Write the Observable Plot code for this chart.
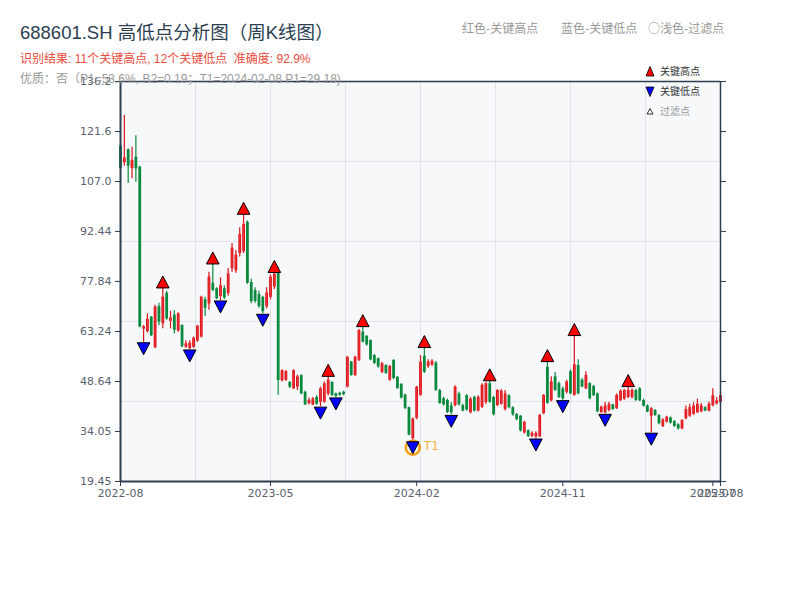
<!DOCTYPE html>
<html><head><meta charset="utf-8">
<script src="https://cdn.jsdelivr.net/npm/d3@7"></script>
<script src="https://cdn.jsdelivr.net/npm/@observablehq/plot@0.6"></script>
<style>
body{margin:0;background:#fff;font-family:"Liberation Sans","Noto Sans CJK SC",sans-serif;}
#wrap{position:relative;width:800px;height:600px;overflow:hidden;}
#chart{position:absolute;left:0;top:0;}
.t{position:absolute;white-space:nowrap;line-height:1;z-index:2;}
.cjk{font-family:"Noto Sans CJK SC",sans-serif;}
#leg{position:absolute;left:0;top:0;z-index:3;font-family:"Noto Sans CJK SC",sans-serif;}
</style></head><body><div id="wrap">
<div id="chart"></div>
<div class="t" style="left:20px;top:24px;font-size:18.5px;color:#2c3e50">688601.SH 高低点分析图（周K线图）</div>
<div class="t" style="left:20px;top:53px;font-size:12px;color:#e74c3c">识别结果: 11个关键高点, 12个关键低点&nbsp;&nbsp;准确度: 92.9%</div>
<div class="t" style="left:20px;top:73px;font-size:12px;color:#999">优质：否（P1=53.6%, B2=0.19；T1=2024-02-08 P1=29.18)</div>
<div class="t cjk" style="left:462px;top:22px;font-size:12px;color:#999">红色-关键高点</div>
<div class="t cjk" style="left:561px;top:22px;font-size:12px;color:#999">蓝色-关键低点</div>
<div class="t cjk" style="left:648px;top:22px;font-size:12px;color:#999">○浅色-过滤点</div>
<svg id="leg" width="800" height="140">
  <path d="M650,66.5 L654,76 L646,76 Z" fill="#ff0000" stroke="#000" stroke-width="0.8"/>
  <text x="660" y="72" font-size="10" fill="#333" dominant-baseline="middle">关键高点</text>
  <path d="M650,96.5 L654,87 L646,87 Z" fill="#0000ff" stroke="#000" stroke-width="0.8"/>
  <text x="660" y="92" font-size="10" fill="#333" dominant-baseline="middle">关键低点</text>
  <path d="M650,108.5 L653,114 L647,114 Z" fill="#fff" stroke="#000" stroke-width="0.8"/>
  <text x="660" y="112" font-size="10" fill="#999" dominant-baseline="middle">过滤点</text>
</svg>
</div>
<script>
// weekly candles (index 0 = first week of 2022-08)
const opens = [117.3,112.5,116.3,110.8,114.1,111.2,63.9,63.2,67.4,58.5,
70.5,65.5,74.4,66.2,68.0,63.4,65.0,58.6,58.3,58.6,
60.4,61.6,72.5,71.3,77.3,75.7,73.4,75.7,74.3,81.6,
81.0,86.0,86.5,95.1,77.5,75.2,74.0,73.2,70.5,73.2,
76.2,80.5,48.9,49.0,48.4,46.5,47.0,50.4,45.5,42.2,
41.8,44.0,42.5,42.6,45.0,48.4,45.0,45.2,45.5,47.0,
54.3,50.4,54.8,63.0,61.8,60.6,56.2,55.3,51.3,53.3,
49.0,54.8,49.9,47.8,44.7,41.0,32.0,37.9,44.6,56.0,
53.0,53.5,54.0,46.0,43.6,43.1,41.5,41.6,45.0,41.6,
44.5,39.5,44.0,40.0,41.1,42.5,48.0,44.0,41.6,42.0,
40.5,44.5,41.0,39.0,38.5,33.6,34.3,32.6,32.5,32.5,
39.2,52.8,43.0,50.0,48.0,46.5,45.5,51.5,44.6,53.3,
49.0,46.5,48.0,47.2,45.0,39.6,39.5,40.2,41.8,40.7,
43.0,43.5,44.0,44.0,46.0,46.5,43.1,41.5,38.5,40.2,
38.7,35.5,36.8,38.0,37.0,36.0,34.8,37.8,38.5,39.0,
39.5,39.8,41.0,40.0,41.6,42.1,42.5];
const closes = [110.9,113.9,111.5,113.1,110.7,64.5,64.6,66.8,62.0,70.3,
66.0,73.2,66.9,67.2,63.6,68.4,58.8,59.6,59.8,61.3,
64.8,73.2,70.0,79.1,75.2,72.8,76.6,73.0,80.0,87.5,
85.5,91.5,94.5,77.3,72.0,72.0,70.5,69.0,74.5,79.1,
80.0,48.9,51.8,51.5,47.0,51.8,50.0,45.0,41.8,43.1,
43.5,42.0,46.5,48.0,49.0,44.5,44.3,44.6,44.8,55.7,
50.4,55.7,63.5,60.1,59.3,54.9,53.9,52.9,53.8,51.0,
53.0,49.5,46.6,43.8,40.8,33.0,37.7,47.0,54.3,51.3,
54.3,54.5,46.0,42.2,41.8,39.6,39.5,47.0,41.8,40.0,
40.3,43.5,40.0,44.0,47.5,48.0,42.6,38.9,46.0,45.8,
45.0,41.0,38.9,37.5,34.2,36.7,32.6,33.5,33.5,38.7,
44.6,42.3,48.5,46.0,44.0,43.5,48.5,45.0,53.5,45.0,
47.0,50.4,43.6,44.5,39.8,41.1,41.5,41.9,40.5,44.6,
45.8,46.0,46.0,46.0,43.1,43.0,41.4,39.7,40.7,38.7,
36.3,37.4,38.2,36.5,35.5,34.8,37.2,40.4,41.0,41.5,
42.0,41.5,40.0,42.0,44.5,43.0,44.5];
const highs = [117.8,126.3,116.5,117.0,120.4,111.5,65.0,68.4,67.6,70.9,
71.5,75.8,75.0,69.1,69.3,68.6,65.2,60.5,60.5,61.6,
65.0,73.5,73.2,80.5,82.8,76.0,78.9,76.5,81.6,88.9,
86.9,93.5,97.3,95.5,78.5,76.0,75.0,73.5,76.0,79.8,
80.3,82.0,52.0,51.8,48.6,52.0,50.5,50.5,45.8,43.8,
44.0,44.5,47.0,48.5,50.0,48.6,45.3,45.5,45.8,56.0,
54.5,56.0,63.8,64.5,62.1,60.8,56.5,55.5,54.2,53.5,
53.3,55.0,50.0,48.0,44.9,41.2,37.9,47.2,56.2,58.4,
55.0,55.0,54.5,46.3,44.0,43.5,42.5,47.3,45.5,42.0,
44.8,44.0,44.3,44.5,48.0,48.3,48.7,44.3,46.2,46.3,
46.0,44.8,41.3,39.3,38.7,37.0,34.5,34.0,34.0,39.0,
44.8,54.3,50.0,51.3,48.5,47.0,49.0,52.0,61.9,55.0,
49.5,51.5,48.3,47.5,45.3,41.5,42.5,42.5,42.0,45.0,
46.2,46.3,47.0,46.5,46.3,46.8,43.5,41.8,41.0,40.5,
39.0,37.8,38.5,38.3,37.2,36.3,37.5,41.5,42.0,42.5,
43.5,42.2,41.3,42.6,46.5,44.0,45.5];
const lows = [110.5,111.5,106.4,107.8,106.8,64.3,60.1,62.8,61.8,58.3,
65.0,64.0,66.5,64.0,62.5,63.0,58.5,58.4,58.0,58.3,
60.1,61.4,67.6,69.4,74.9,72.6,72.3,72.6,73.5,80.5,
80.2,85.0,86.0,77.0,71.3,71.5,70.0,68.4,69.8,72.5,
75.5,44.6,48.5,48.7,46.6,46.3,46.0,44.8,41.6,41.8,
41.6,41.7,41.3,42.3,44.5,44.3,44.0,44.3,44.5,46.8,
50.2,50.2,54.5,59.9,59.0,54.7,53.6,52.5,51.0,50.7,
48.8,49.2,46.3,43.5,40.5,32.8,31.2,37.5,44.3,51.0,
52.5,53.0,45.8,42.0,41.5,39.3,38.9,41.3,41.5,39.8,
40.0,39.2,39.7,39.8,40.8,42.0,42.3,38.6,41.3,41.8,
40.0,40.7,38.5,37.2,33.9,33.3,32.3,32.3,32.0,32.3,
39.0,42.0,42.7,45.8,43.7,43.2,45.0,44.8,44.3,44.8,
46.8,46.3,43.3,44.2,39.5,39.4,39.2,39.8,40.2,40.5,
42.8,43.2,43.7,43.5,42.8,42.8,41.2,39.5,33.7,38.5,
36.0,35.2,36.5,36.2,35.3,34.5,34.6,37.5,38.2,38.8,
39.3,39.5,39.8,39.8,41.3,41.8,42.1];

const keyHighIdx = [11,24,32,40,54,63,79,96,111,118,132];
const keyLowIdx = [6,18,26,37,52,56,76,86,108,115,126,138];
const t1Idx = 76;
const t1Label = "T1";

const xTickIdx = [0,39,77,115,154,156];
const xTickLabels = ["2022-08","2023-05","2024-02","2024-11","2025-07","2025-08"];
const yTicks = [19.45,34.05,48.64,63.24,77.84,92.44,107.0,121.6,136.2];
const yTickLabels = ["19.45","34.05","48.64","63.24","77.84","92.44","107.0","121.6","136.2"];

const candles = opens.map((o,i)=>({i, o, c: closes[i], h: highs[i], l: lows[i], up: closes[i] >= o}));
const xMax = opens.length - 1;
const yMin = yTicks[0], yMax = yTicks[yTicks.length-1];
const gridX = d3.range(1,8).map(k => k*xMax/8);
const gridY = d3.range(1,5).map(k => yMin + k*(yMax-yMin)/5);
const xLab = new Map(xTickIdx.map((d,i)=>[d, xTickLabels[i]]));
const yLab = new Map(yTicks.map((d,i)=>[d, yTickLabels[i]]));

const RED = "#d8141c", RED_IN = "#f03434", GREEN = "#0a8a3c";
const triUp = {draw(ctx){ ctx.moveTo(0,-12.5); ctx.lineTo(6.3,-0.5); ctx.lineTo(-6.3,-0.5); ctx.closePath(); }};
const triDown = {draw(ctx){ ctx.moveTo(0,12.5); ctx.lineTo(6.3,0.5); ctx.lineTo(-6.3,0.5); ctx.closePath(); }};
const AX = "#2c3e50";
const AXFONT = '"DejaVu Sans",sans-serif';

const chart = Plot.plot({
  width: 800, height: 600,
  marginLeft: 120, marginRight: 80, marginTop: 81, marginBottom: 119,
  x: {domain: [0, xMax], axis: null},
  y: {domain: [yMin, yMax], axis: null},
  style: {fontFamily: '"Liberation Sans","Noto Sans CJK SC",sans-serif', fontSize: "11px", background: "transparent"},
  marks: [
    Plot.frame({fill: "#f6f8fa", stroke: "none"}),
    Plot.ruleX(gridX, {stroke: "#e1e4e9", strokeWidth: 1}),
    Plot.ruleY(gridY, {stroke: "#e1e4e9", strokeWidth: 1}),
    Plot.ruleX(candles, {x: "i", y1: "l", y2: "h", stroke: d => d.up ? RED : GREEN, strokeWidth: 1.2}),
    Plot.ruleX(candles, {x: "i", y1: d => Math.min(d.o, d.c), y2: d => Math.max(d.o, d.c), stroke: d => d.up ? RED : GREEN, strokeWidth: 2.8}),
    Plot.ruleX(candles.filter(d => d.up), {x: "i", y1: d => d.o, y2: d => d.c, stroke: RED_IN, strokeWidth: 1, insetTop: 0.8, insetBottom: 0.8}),
    Plot.dot([t1Idx], {x: d => d, y: d => lows[d], dy: 6.5, r: 7, fill: "none", stroke: "#f39c12", strokeWidth: 2.5}),
    Plot.dot(keyHighIdx, {x: d => d, y: d => highs[d], symbol: triUp, fill: "#ff0000", stroke: "#000", strokeWidth: 1}),
    Plot.dot(keyLowIdx, {x: d => d, y: d => lows[d], symbol: triDown, fill: "#0000ff", stroke: "#000", strokeWidth: 1}),
    Plot.text([t1Idx], {x: d => d, y: d => lows[d], text: () => t1Label, dx: 11, dy: 5, fill: "#f5b041", fontSize: 12, fontFamily: AXFONT, textAnchor: "start"}),
    Plot.axisY({ticks: yTicks, tickFormat: d => yLab.get(d), tickSize: 5, tickPadding: 4, stroke: AX, fill: "#5a6270", fontSize: 11, fontFamily: AXFONT, label: null}),
    Plot.axisY({anchor: "right", ticks: yTicks, tickFormat: () => "", tickSize: 5, stroke: AX, label: null}),
    Plot.axisX({ticks: xTickIdx, tickFormat: d => xLab.get(d), tickSize: 5, tickPadding: 3, stroke: AX, fill: "#5a6270", fontSize: 11, fontFamily: AXFONT, label: null}),
    Plot.ruleY([yMax], {stroke: AX, strokeWidth: 1.5}),
    Plot.ruleX([xMax], {stroke: AX, strokeWidth: 1.5}),
    Plot.ruleY([yMin], {stroke: AX, strokeWidth: 2}),
    Plot.ruleX([0], {stroke: AX, strokeWidth: 2})
  ]
});
document.getElementById("chart").appendChild(chart);
</script>
</body></html>
